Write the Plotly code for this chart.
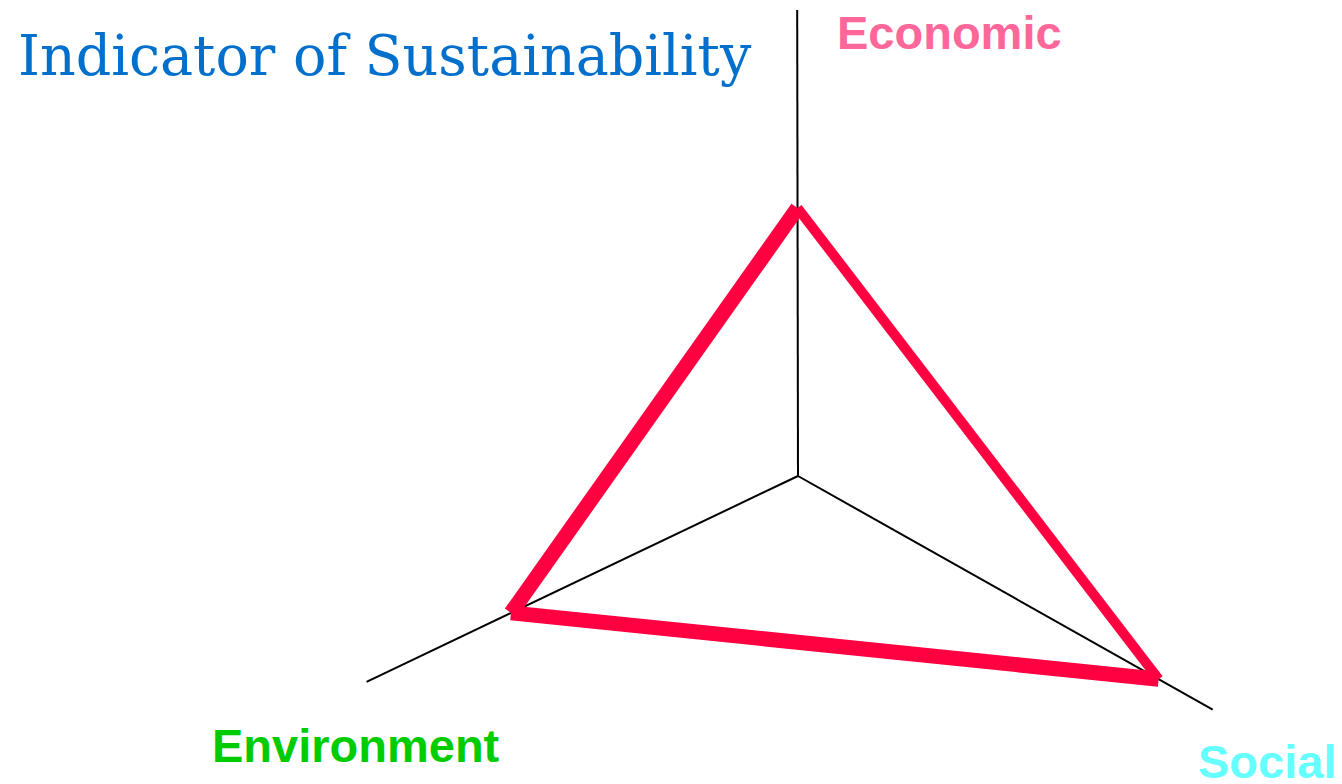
import numpy as np
import plotly.graph_objects as go

# ---- data ----
categories = ["Economic", "Environment", "Social"]
values = [268, 318, 414]            # indicator value along each axis
axis_extent = [466, 478, 476]       # full length of each axis
label_colors = ["#FF6699", "#00CC00", "#66FFFF"]
title_text = "Indicator of Sustainability"

# ---- layout geometry ----
W, H = 1342, 784
PAGE_OFF = 8                         # default body margin of the html page
cx, cy = 798, 476
angles_deg = [90.1, 205.5, -29.4]
edge_widths = {(0, 1): 15, (0, 2): 10, (2, 1): 15}
label_pos = [(835, 32, "left"), (210, 745, "left"), (1196, 761, "left")]

ang = np.radians(angles_deg)
def pt(r, a):
    return cx + r * np.cos(a), cy - r * np.sin(a)

fig = go.Figure()

# axes
for ext, a in zip(axis_extent, ang):
    x1, y1 = pt(ext, a)
    fig.add_trace(go.Scatter(x=[cx, x1], y=[cy, y1], mode="lines",
                             line=dict(color="black", width=2),
                             hoverinfo="skip", showlegend=False))

# indicator triangle
verts = [pt(v, a) for v, a in zip(values, ang)]
for (i, j), w in edge_widths.items():
    fig.add_trace(go.Scatter(x=[verts[i][0], verts[j][0]],
                             y=[verts[i][1], verts[j][1]],
                             mode="lines",
                             line=dict(color="#FF0040", width=w),
                             hoverinfo="skip", showlegend=False))

annotations = [dict(x=16, y=55, xref="x", yref="y", text=title_text,
                    showarrow=False, xanchor="left", yanchor="middle",
                    font=dict(family="DejaVu Serif", size=55.5, color="#0070CC"))]
for cat, col, (lx, ly, anc) in zip(categories, label_colors, label_pos):
    annotations.append(dict(x=lx, y=ly, xref="x", yref="y", text="<b>%s</b>" % cat,
                            showarrow=False, xanchor=anc, yanchor="middle",
                            font=dict(family="Liberation Sans", size=47, color=col)))

fig.update_layout(
    width=W, height=H, autosize=False,
    margin=dict(l=0, r=0, t=0, b=0),
    paper_bgcolor="white", plot_bgcolor="white",
    xaxis=dict(range=[PAGE_OFF, W + PAGE_OFF], visible=False, fixedrange=True),
    yaxis=dict(range=[H + PAGE_OFF, PAGE_OFF], visible=False, fixedrange=True),
    annotations=annotations,
)

fig.write_html("out.html")
